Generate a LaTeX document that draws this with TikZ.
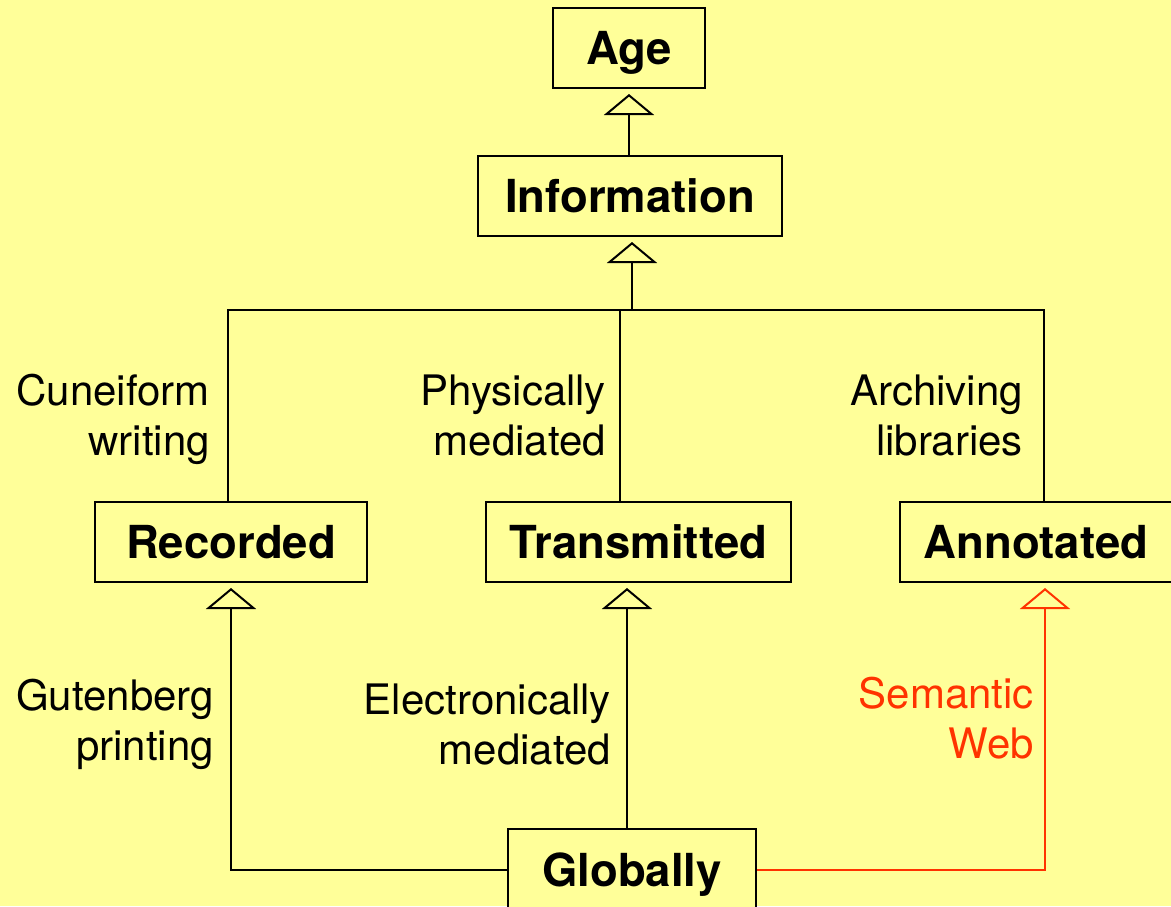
\documentclass[tikz,border=0pt]{standalone}
\usepackage{fontspec}
\setmainfont{TeX Gyre Heros}
\usetikzlibrary{arrows.meta}
\definecolor{paper}{HTML}{FFFF99}
\definecolor{semred}{HTML}{FF3300}
\begin{document}
\begin{tikzpicture}[x=1pt,y=-1pt,
  box/.style={draw=black,line width=2pt,fill=paper,inner sep=0pt,minimum height=80pt,
    text height=33pt,text depth=0pt,
    font=\fontsize{45.5}{50}\selectfont\bfseries},
  lbl/.style={inner sep=0pt,anchor=base east,font=\fontsize{42}{50}\selectfont},
  wire/.style={line width=2pt,line join=miter},
  gen/.style={wire,-{Triangle[open,width=50pt,length=21pt,line width=2pt]},shorten >=5pt}]
  % page
  \fill[paper] (0,0) rectangle (1171,906);
  \useasboundingbox (0,0) rectangle (1171,906);

  % class boxes
  \node[box,minimum width=152pt] (Age) at (629,48) {Age};
  \node[box,minimum width=304pt] (Information) at (630,196) {Information};
  \node[box,minimum width=272pt] (Recorded) at (231,542) {Recorded};
  \node[box,minimum width=305pt] (Transmitted) at (638.5,542) {Transmitted};
  \node[box,minimum width=272pt] (Annotated) at (1036,542) {Annotated};
  \node[box,minimum width=248pt,minimum height=82pt] (Globally) at (632,870) {Globally};

  % Information -> Age
  \draw[gen] (Age.south |- Information.north) -- (Age.south);

  % bus joining the three middle classes to Information
  \coordinate (busL) at (228,310);
  \coordinate (busM) at (632,310);
  \coordinate (busT) at (620,310);
  \coordinate (busR) at (1044,310);
  \draw[wire] (busL |- Recorded.north) -- (busL) -- (busR) -- (busR |- Annotated.north);
  \draw[wire] (busT) -- (busT |- Transmitted.north);
  \draw[gen] (busM) -- (busM |- Information.south);

  % Globally -> middle classes
  \coordinate (cornL) at (231,870);
  \coordinate (tcol) at (627,870);
  \coordinate (cornR) at (1045,870);
  \draw[gen] (Globally.west) -- (cornL) -- (cornL |- Recorded.south);
  \draw[gen] (tcol |- Globally.north) -- (tcol |- Transmitted.south);
  \draw[gen,draw=semred] (Globally.east) -- (cornR) -- (cornR |- Annotated.south);

  % edge labels
  \node[lbl] (lCun) at (210,405) {\begin{tabular}[t]{@{}r@{}}Cuneiform\\writing\end{tabular}};
  \node[lbl] (lPhy) at (606,405) {\begin{tabular}[t]{@{}r@{}}Physically\\mediated\end{tabular}};
  \node[lbl] (lArc) at (1023,405) {\begin{tabular}[t]{@{}r@{}}Archiving\\libraries\end{tabular}};
  \node[lbl] (lGut) at (214,710) {\begin{tabular}[t]{@{}r@{}}Gutenberg\\printing\end{tabular}};
  \node[lbl] (lEle) at (611,714) {\begin{tabular}[t]{@{}r@{}}Electronically\\mediated\end{tabular}};
  \node[lbl,text=semred] (lSem) at (1034,708) {\begin{tabular}[t]{@{}r@{}}Semantic\\Web\end{tabular}};
\end{tikzpicture}
\end{document}
